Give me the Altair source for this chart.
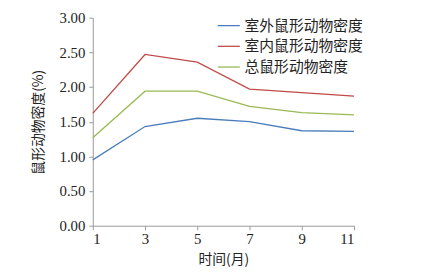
import altair as alt
import pandas as pd

months = [1, 3, 5, 7, 9, 11]
series_names = ["室外鼠形动物密度", "室内鼠形动物密度", "总鼠形动物密度"]
outdoor = [0.95, 1.43, 1.55, 1.50, 1.37, 1.36]
indoor = [1.62, 2.47, 2.36, 1.97, 1.92, 1.87]
total = [1.27, 1.94, 1.94, 1.72, 1.63, 1.60]
colors = ["#4a7ebb", "#be4b48", "#98b954"]

rows = []
for name, vals in zip(series_names, [outdoor, indoor, total]):
    for m, v in zip(months, vals):
        rows.append({"month": m, "value": v, "series": name})
df = pd.DataFrame(rows)

cjk = "Noto Sans CJK SC"
serif = "Times New Roman"

chart = alt.Chart(df).mark_line(strokeWidth=1.3).encode(
    x=alt.X("month:Q", scale=alt.Scale(domain=[1, 11], nice=False),
            axis=alt.Axis(values=months, format="d", title="时间(月)", grid=False,
                          domainColor="#999999", tickColor="#999999", tickSize=4,
                          labelFont=serif, labelFontSize=15, labelColor="#222222",
                          titleFont=cjk, titleFontSize=14, titleFontWeight="normal",
                          titleColor="#222222", labelPadding=2, titlePadding=6)),
    y=alt.Y("value:Q", scale=alt.Scale(domain=[0, 3], nice=False),
            axis=alt.Axis(values=[0, 0.5, 1, 1.5, 2, 2.5, 3], format=".2f",
                          title="鼠形动物密度(%)", grid=False,
                          domainColor="#999999", tickColor="#999999", tickSize=4,
                          labelFont=serif, labelFontSize=15, labelColor="#222222",
                          titleFont=cjk, titleFontSize=14, titleFontWeight="normal",
                          titleColor="#222222", labelPadding=4, titlePadding=14)),
    color=alt.Color("series:N", scale=alt.Scale(domain=series_names, range=colors),
                    legend=alt.Legend(title=None, orient="none", legendX=126, legendY=-4,
                                      symbolType="stroke", symbolSize=500,
                                      symbolStrokeWidth=1.3, labelFont=cjk,
                                      labelFontSize=15, labelColor="#222222",
                                      rowPadding=1, labelOffset=4)),
).properties(
    width=265, height=211,
    autosize=alt.AutoSizeParams(type="none"),
    padding={"left": 86, "top": 8, "right": 70, "bottom": 40},
).configure_view(stroke=None)

chart.save("out.html", embed_options={"renderer": "svg", "actions": False})
